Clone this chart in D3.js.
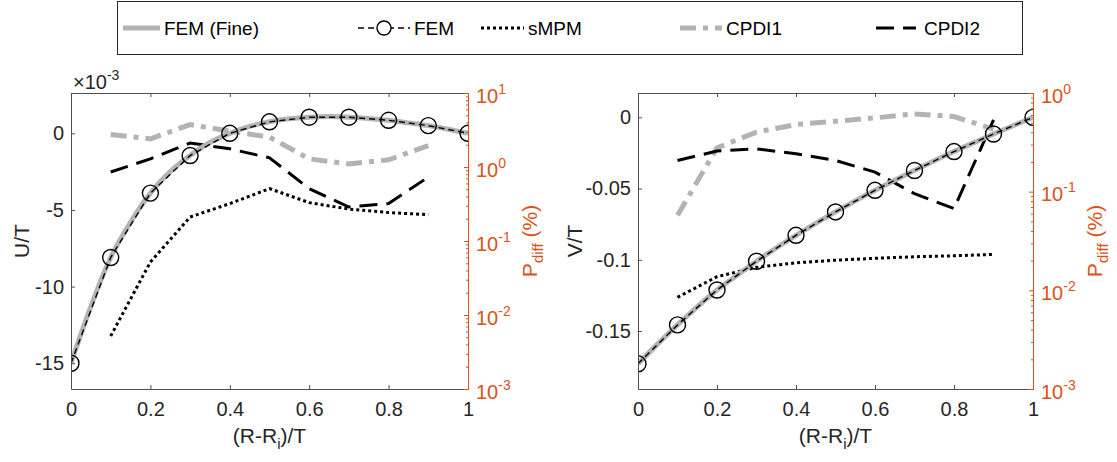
<!DOCTYPE html>
<html>
<head>
<meta charset="utf-8">
<script src="https://cdn.jsdelivr.net/npm/d3@7"></script>
<style>
  body { margin: 0; background: #fff; }
  text { font-family: "Liberation Sans", Arial, sans-serif; }
</style>
</head>
<body>
<svg id="chart" width="1117" height="462"></svg>
<script>
// ---- data ----
const xFem = [0, 0.1, 0.2, 0.3, 0.4, 0.5, 0.6, 0.7, 0.8, 0.9, 1];
const xFine = [0, 0.05, 0.1, 0.15, 0.2, 0.25, 0.3, 0.35, 0.4, 0.45, 0.5,
  0.55, 0.6, 0.65, 0.7, 0.75, 0.8, 0.85, 0.9, 0.95, 1];
const xDiff = [0.1, 0.2, 0.3, 0.4, 0.5, 0.6, 0.7, 0.8, 0.9];

// U/T (x1e-3)
const uFine = [-15.0, -11.3, -8.1, -5.8, -3.9, -2.5, -1.45, -0.6, 0.0, 0.45, 0.75,
  0.95, 1.05, 1.1, 1.05, 0.97, 0.85, 0.68, 0.5, 0.27, 0];
const uFem = [-15.0, -8.1, -3.9, -1.45, 0.0, 0.75, 1.05, 1.05, 0.85, 0.5, 0];
// P_diff (%) for U
const uSmpm = [0.0052, 0.052, 0.211, 0.32, 0.51, 0.33, 0.27, 0.242, 0.227];
const uCpdi1 = [2.75, 2.4, 3.74, 3.05, 2.53, 1.29, 1.1, 1.25, 1.95];
const uCpdi2 = [0.856, 1.29, 2.11, 1.76, 1.33, 0.51, 0.288, 0.32, 0.73];

// V/T
const vFine = [-0.173, -0.159, -0.1457, -0.133, -0.1212, -0.111, -0.101, -0.0917,
  -0.0828, -0.0744, -0.0664, -0.0586, -0.0512, -0.0441, -0.0373, -0.0305, -0.024,
  -0.0178, -0.0117, -0.0058, 0];
const vFem = [-0.173, -0.1457, -0.1212, -0.101, -0.0828, -0.0664, -0.0512, -0.0373,
  -0.024, -0.0117, 0];
// P_diff (%) for V
const vSmpm = [0.0085, 0.01375, 0.0171, 0.019, 0.0202, 0.0211, 0.0219, 0.0224, 0.0231];
const vCpdi1 = [0.0576, 0.278, 0.401, 0.479, 0.518, 0.56, 0.614, 0.577, 0.43];
const vCpdi2 = [0.207, 0.258, 0.272, 0.242, 0.207, 0.158, 0.0953, 0.0673, 0.533];

const xTicks = [0, 0.2, 0.4, 0.6, 0.8, 1];
const uTicks = [-15, -10, -5, 0];
const vTicks = [-0.15, -0.1, -0.05, 0];

const AX = '#262626';
const AXLINE = '#4d4d4d';
const ORANGE = '#D95319';
const GRAY = '#b3b3b3';

const styles = {
  fine: { stroke: GRAY, width: 5, dash: null },
  fem: { stroke: '#000', width: 1.4, dash: '6,4' },
  smpm: { stroke: '#000', width: 3, dash: '3,3' },
  cpdi1: { stroke: GRAY, width: 5, dash: '16,7,5,7' },
  cpdi2: { stroke: '#000', width: 3, dash: '18,9' },
};

const svg = d3.select('#chart');
const plotTop = 93, plotBottom = 389;

// matlab-like labels: plain hyphen for negatives
const fmt = d => d3.format('~g')(d).replace('\u2212', '-');

function styled(sel, st) {
  sel.attr('fill', 'none')
    .attr('stroke', st.stroke)
    .attr('stroke-width', st.width)
    .attr('stroke-dasharray', st.dash);
  return sel;
}

function drawPanel(cfg) {
  const g = svg.append('g');
  const x = d3.scaleLinear().domain([0, 1]).range([cfg.left, cfg.right]);
  const y = d3.scaleLinear().domain(cfg.yDomain).range([plotBottom, plotTop]);
  const yR = d3.scaleLog().domain(cfg.rDomain).range([plotBottom, plotTop]);

  const clipId = 'clip' + cfg.id;
  svg.append('clipPath').attr('id', clipId)
    .append('rect')
    .attr('x', cfg.left).attr('y', plotTop)
    .attr('width', cfg.right - cfg.left).attr('height', plotBottom - plotTop);

  const plot = g.append('g').attr('clip-path', `url(#${clipId})`);

  const lineL = d3.line().x(d => x(d[0])).y(d => y(d[1]));
  const lineR = d3.line().x(d => x(d[0])).y(d => yR(d[1]));
  const fineLine = d3.line().curve(d3.curveCatmullRom)
    .x(d => x(d[0])).y(d => y(d[1]));

  // right-axis series
  styled(plot.append('path'), styles.cpdi1).attr('d', lineR(d3.zip(xDiff, cfg.cpdi1)));
  styled(plot.append('path'), styles.cpdi2).attr('d', lineR(d3.zip(xDiff, cfg.cpdi2)));
  styled(plot.append('path'), styles.smpm).attr('d', lineR(d3.zip(xDiff, cfg.smpm)));

  // left-axis series
  styled(plot.append('path'), styles.fine).attr('d', fineLine(d3.zip(xFine, cfg.fine)));
  styled(plot.append('path'), styles.fem).attr('d', lineL(d3.zip(xFem, cfg.fem)));
  plot.selectAll('.dot').data(d3.zip(xFem, cfg.fem)).join('circle')
    .attr('class', 'dot')
    .attr('cx', d => x(d[0])).attr('cy', d => y(d[1]))
    .attr('r', 8)
    .attr('fill', 'none').attr('stroke', '#000').attr('stroke-width', 1.4);

  // axes
  const xAxis = g.append('g').attr('transform', `translate(0,${plotBottom})`)
    .call(d3.axisBottom(x).tickValues(xTicks).tickSize(-4).tickSizeOuter(0)
      .tickPadding(13).tickFormat(fmt));
  const xTop = g.append('g').attr('transform', `translate(0,${plotTop})`)
    .call(d3.axisTop(x).tickValues(xTicks).tickSize(-4).tickSizeOuter(0)
      .tickFormat(''));
  const yAxis = g.append('g').attr('transform', `translate(${cfg.left},0)`)
    .call(d3.axisLeft(y).tickValues(cfg.yTicks).tickSize(-4).tickSizeOuter(0)
      .tickPadding(7).tickFormat(fmt));

  [xAxis, xTop, yAxis].forEach(a => {
    a.selectAll('path, line').attr('stroke', AXLINE);
    a.selectAll('text').attr('fill', AX).style('font-size', '20px');
  });

  // right log axis
  const majors = d3.range(Math.round(Math.log10(cfg.rDomain[0])),
    Math.round(Math.log10(cfg.rDomain[1])) + 1).map(e => Math.pow(10, e));
  const minors = [];
  majors.slice(0, -1).forEach(m => d3.range(2, 10).forEach(k => minors.push(m * k)));

  const yRMinor = g.append('g').attr('transform', `translate(${cfg.right},0)`)
    .call(d3.axisRight(yR).tickValues(minors).tickSize(-2).tickSizeOuter(0)
      .tickFormat(''));
  const yRAxis = g.append('g').attr('transform', `translate(${cfg.right},0)`)
    .call(d3.axisRight(yR).tickValues(majors).tickSize(-4).tickSizeOuter(0)
      .tickFormat(''));
  [yRMinor, yRAxis].forEach(a => a.selectAll('path, line').attr('stroke', ORANGE));

  yRAxis.selectAll('.tick').append('text')
    .attr('x', 8).attr('y', 9)
    .attr('fill', ORANGE).style('font-size', '20px')
    .each(function(d) {
      const t = d3.select(this);
      t.append('tspan').text('10');
      t.append('tspan').attr('dy', -9).style('font-size', '14px')
        .text(String(Math.round(Math.log10(d))));
    });

  // labels
  g.append('text')
    .attr('transform', `translate(${cfg.left - cfg.yLabelOffset},${(plotTop + plotBottom) / 2}) rotate(-90)`)
    .attr('text-anchor', 'middle').attr('fill', AX).style('font-size', '21px')
    .text(cfg.yLabel);

  const pl = g.append('text')
    .attr('transform', `translate(${cfg.right + 69},${(plotTop + plotBottom) / 2}) rotate(-90)`)
    .attr('text-anchor', 'middle').attr('fill', ORANGE).style('font-size', '21px');
  pl.append('tspan').text('P');
  pl.append('tspan').attr('dy', 6).style('font-size', '15px').text('diff');
  pl.append('tspan').attr('dy', -6).text(' (%)');

  const xl = g.append('text')
    .attr('x', (cfg.left + cfg.right) / 2).attr('y', 443)
    .attr('text-anchor', 'middle').attr('fill', AX).style('font-size', '21px');
  xl.append('tspan').text('(R-R');
  xl.append('tspan').attr('dy', 6).style('font-size', '15px').text('i');
  xl.append('tspan').attr('dy', -6).text(')/T');

  if (cfg.exponent) {
    const ex = g.append('text').attr('x', cfg.left + 2).attr('y', 89)
      .attr('fill', AX).style('font-size', '20px');
    ex.append('tspan').text('\u00d710');
    ex.append('tspan').attr('dy', -9).style('font-size', '14px').text(cfg.exponent);
  }
}

drawPanel({
  id: 'u', left: 71, right: 468, yDomain: [-16.68, 2.63], rDomain: [1e-3, 1e1],
  yTicks: uTicks, yLabel: 'U/T', yLabelOffset: 42, exponent: '-3',
  fine: uFine, fem: uFem, smpm: uSmpm, cpdi1: uCpdi1, cpdi2: uCpdi2,
});
drawPanel({
  id: 'v', left: 638, right: 1033, yDomain: [-0.1907, 0.0171], rDomain: [1e-3, 1e0],
  yTicks: vTicks, yLabel: 'V/T', yLabelOffset: 56, exponent: null,
  fine: vFine, fem: vFem, smpm: vSmpm, cpdi1: vCpdi1, cpdi2: vCpdi2,
});

// ---- legend ----
const legendItems = [
  { name: 'FEM (Fine)', key: 'fine', x0: 123, x1: 160, tx: 164 },
  { name: 'FEM', key: 'fem', x0: 358, x1: 410, tx: 414, marker: true },
  { name: 'sMPM', key: 'smpm', x0: 481, x1: 524, tx: 528 },
  { name: 'CPDI1', key: 'cpdi1', x0: 680, x1: 722, tx: 726 },
  { name: 'CPDI2', key: 'cpdi2', x0: 876, x1: 916, tx: 924 },
];
const legend = svg.append('g');
legend.append('rect')
  .attr('x', 117.5).attr('y', 1.5).attr('width', 905).attr('height', 53)
  .attr('fill', '#fff').attr('stroke', AX).attr('stroke-width', 1);
const ly = 28;
legendItems.forEach(it => {
  styled(legend.append('line'), styles[it.key])
    .attr('x1', it.x0).attr('x2', it.x1).attr('y1', ly).attr('y2', ly);
  if (it.marker) {
    legend.append('circle').attr('cx', (it.x0 + it.x1) / 2).attr('cy', ly).attr('r', 7)
      .attr('fill', '#fff').attr('stroke', '#000').attr('stroke-width', 1.4);
  }
  legend.append('text').attr('x', it.tx).attr('y', ly + 7)
    .attr('fill', '#000').style('font-size', '19px').text(it.name);
});
</script>
</body>
</html>
